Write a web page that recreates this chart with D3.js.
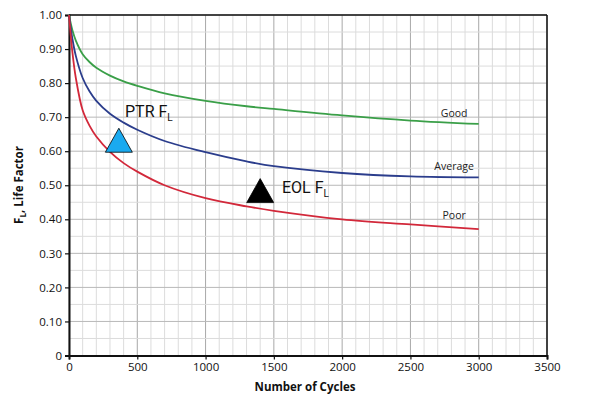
<!DOCTYPE html>
<html>
<head>
<meta charset="utf-8">
<script src="https://cdn.jsdelivr.net/npm/d3@7"></script>
<style>
body { margin: 0; background: #fff; }
</style>
</head>
<body>
<script>
// curve data
var cycles = [0, 25, 50, 100, 150, 200, 300, 400, 500, 700, 1000, 1300, 1500, 2000, 2500, 3000];
var good   = [1.0, 0.955, 0.925, 0.885, 0.862, 0.845, 0.822, 0.805, 0.792, 0.77, 0.748, 0.732, 0.724, 0.705, 0.69, 0.68];
var average= [1.0, 0.93, 0.88, 0.815, 0.776, 0.748, 0.71, 0.684, 0.663, 0.63, 0.597, 0.570, 0.556, 0.536, 0.526, 0.523];
var poor   = [1.0, 0.89, 0.815, 0.72, 0.675, 0.643, 0.598, 0.565, 0.54, 0.50, 0.462, 0.438, 0.425, 0.40, 0.385, 0.371];

var seriesNames = ["Good", "Average", "Poor"];
var seriesColors = ["#3a9f48", "#2b3d8c", "#d2283a"];
var labelPos = [[2820, 0.70], [2820, 0.545], [2820, 0.40]];

var xTicks = [0, 500, 1000, 1500, 2000, 2500, 3000, 3500];
var yTicks = [0, 0.1, 0.2, 0.3, 0.4, 0.5, 0.6, 0.7, 0.8, 0.9, 1.0];

var markers = [
    {x: 365, y: 0.597, fill: "#1aaaf0", label: "PTR F", lx: 125, ly: 0.70},
    {x: 1400, y: 0.449, fill: "#000", label: "EOL F", lx: 282, ly: 0.478}
];

var width = 589, height = 397;
var margin = {top: 15, right: 42, bottom: 41.5, left: 69};
var font = "'Open Sans', 'Liberation Sans', sans-serif";

var svg = d3.select("body").append("svg")
    .attr("width", width)
    .attr("height", height)
    .style("font-family", font);

var x = d3.scaleLinear().domain([0, 3500]).range([margin.left, width - margin.right]);
var y = d3.scaleLinear().domain([0, 1]).range([height - margin.bottom, margin.top]);

// grid
for (var c = 0; c <= 3500; c += 100) {
    svg.append("line")
        .attr("x1", x(c)).attr("x2", x(c))
        .attr("y1", y(0)).attr("y2", y(1))
        .attr("stroke", c % 500 == 0 ? "#a8a8a8" : "#dcdcdc")
        .attr("stroke-width", 1);
}
for (var k = 0; k <= 20; k++) {
    svg.append("line")
        .attr("x1", x(0)).attr("x2", x(3500))
        .attr("y1", y(k / 20)).attr("y2", y(k / 20))
        .attr("stroke", k % 2 == 0 ? "#b8b8b8" : "#dcdcdc")
        .attr("stroke-width", 1);
}

// frame top/right
svg.append("line").attr("x1", x(0)).attr("x2", x(3500)).attr("y1", y(1)).attr("y2", y(1))
    .attr("stroke", "#111").attr("stroke-width", 1.5);
svg.append("line").attr("x1", x(3500)).attr("x2", x(3500)).attr("y1", y(0)).attr("y2", y(1))
    .attr("stroke", "#111").attr("stroke-width", 1.5);

// axes
var xAxis = svg.append("g")
    .attr("transform", "translate(0," + y(0) + ")")
    .call(d3.axisBottom(x).tickValues(xTicks).tickSize(4).tickPadding(3).tickFormat(d3.format("d")));
var yAxis = svg.append("g")
    .attr("transform", "translate(" + x(0) + ",0)")
    .call(d3.axisLeft(y).tickValues(yTicks).tickSize(4).tickPadding(3)
        .tickFormat(function(d) { return d == 0 ? "0" : d3.format(".2f")(d); }));

[xAxis, yAxis].forEach(function(a) {
    a.select(".domain").attr("stroke", "#111").attr("stroke-width", 2);
    a.selectAll(".tick line").attr("stroke", "#111").attr("stroke-width", 1.2);
    a.selectAll("text")
        .attr("font-family", font)
        .attr("font-size", 11.5)
        .attr("fill", "#111");
});

// curves
var line = d3.line()
    .x(function(d) { return x(d[0]); })
    .y(function(d) { return y(d[1]); })
    .curve(d3.curveCatmullRom.alpha(0.5));

[good, average, poor].forEach(function(vals, i) {
    var pts = cycles.map(function(c, j) { return [c, vals[j]]; });
    svg.append("path")
        .datum(pts)
        .attr("d", line)
        .attr("fill", "none")
        .attr("stroke", seriesColors[i])
        .attr("stroke-width", 1.8);

    svg.append("text")
        .attr("x", x(labelPos[i][0]))
        .attr("y", y(labelPos[i][1]))
        .attr("text-anchor", "middle")
        .attr("font-size", 10.5)
        .attr("fill", "#222")
        .text(seriesNames[i]);
});

// triangle markers
markers.forEach(function(m) {
    var cx = x(m.x), by = y(m.y);
    svg.append("path")
        .attr("d", "M" + (cx - 13.5) + "," + by + "L" + cx + "," + (by - 24) + "L" + (cx + 13.5) + "," + by + "Z")
        .attr("fill", m.fill)
        .attr("stroke", "#000")
        .attr("stroke-width", 0.8);

    var t = svg.append("text")
        .attr("x", m.lx)
        .attr("y", y(m.ly))
        .style("font-family", "Roboto, sans-serif")
        .attr("font-size", 16)
        .attr("fill", "#111")
        .text(m.label);
    t.append("tspan")
        .attr("dy", 4)
        .attr("font-size", 10)
        .text("L");
});

// axis titles
svg.append("text")
    .attr("x", 305)
    .attr("y", 391)
    .attr("text-anchor", "middle")
    .attr("font-size", 11.5)
    .attr("font-weight", "bold")
    .attr("fill", "#111")
    .text("Number of Cycles");

var yt = svg.append("text")
    .attr("transform", "translate(23,185) rotate(-90)")
    .attr("text-anchor", "middle")
    .attr("font-size", 11.5)
    .attr("font-weight", "bold")
    .attr("fill", "#111")
    .text("F");
yt.append("tspan").attr("dy", 3).attr("font-size", 8).text("L");
yt.append("tspan").attr("dy", -3).text(", Life Factor");
</script>
</body>
</html>
